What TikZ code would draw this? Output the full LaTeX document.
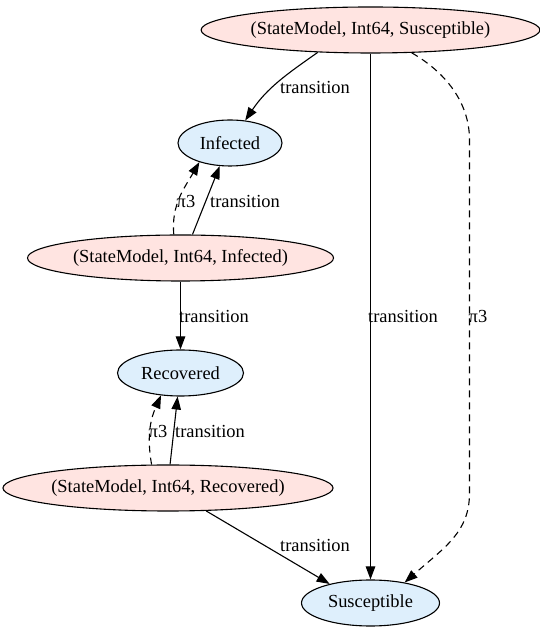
\documentclass[tikz,border=0pt]{standalone}
\usepackage{fontspec}
\setmainfont{Liberation Serif}
\usetikzlibrary{shapes.geometric,arrows.meta}
\definecolor{rosefill}{HTML}{FFE4E1}
\definecolor{bluefill}{HTML}{DEEFFC}
\begin{document}
\begin{tikzpicture}[x=1bp, y=1bp,
	every node/.style={font=\fontsize{18.5}{22}\selectfont},
	tup/.style={draw,ellipse,fill=rosefill,line width=1.1bp,inner sep=0pt,minimum height=46bp},
	stt/.style={draw,ellipse,fill=bluefill,line width=1.1bp,inner sep=0pt,minimum height=46bp},
	edge/.style={line width=1.1bp,-{Triangle[length=13bp,width=9.5bp]}},
	proj/.style={edge,dash pattern=on 7bp off 5bp}]
\useasboundingbox (0,0) rectangle (540,632);
\node[tup,minimum width=334bp] (ss) at (370.5, 602) {(StateModel, Int64, Susceptible)};
\node[stt,minimum width=104bp] (inf) at (230, 489) {Infected};
\node[tup,minimum width=306bp] (si) at (180.5, 374) {(StateModel, Int64, Infected)};
\node[stt,minimum width=126bp] (rec) at (180.5, 259) {Recovered};
\node[tup,minimum width=328bp] (sr) at (168, 144) {(StateModel, Int64, Recovered)};
\node[stt,minimum width=138bp] (sus) at (370.5, 29) {Susceptible};
% transitions
\draw[edge] (ss.203) to[out=215, in=56] (inf.56);
\draw[edge] (ss.south) -- (sus.north);
\draw[edge] (si.63) -- (inf.246);
\draw[edge] (si.south) -- (rec.north);
\draw[edge] (sr.85) -- (rec.263);
\draw[edge] (sr.329) -- (sus.155);
% projections
\draw[proj] (ss.331) .. controls (445,560) and (469.5,530) .. (469.5,492)
	-- (469.5,139) .. controls (469.5,100) and (445,85) .. (sus.31);
\draw[proj] (si.106) to[out=95, in=240] (inf.212);
\draw[proj] (sr.125) to[out=100, in=246] (rec.229);
% labels
\node (l1) at (315, 545) {transition};
\node (l2) at (403, 316) {transition};
\node (l3) at (478, 316) {π3};
\node (l4) at (245, 431) {transition};
\node (l5) at (186, 431) {π3};
\node (l6) at (214, 316) {transition};
\node (l7) at (210, 201) {transition};
\node (l8) at (158, 201) {π3};
\node (l9) at (315, 87) {transition};
\end{tikzpicture}
\end{document}
